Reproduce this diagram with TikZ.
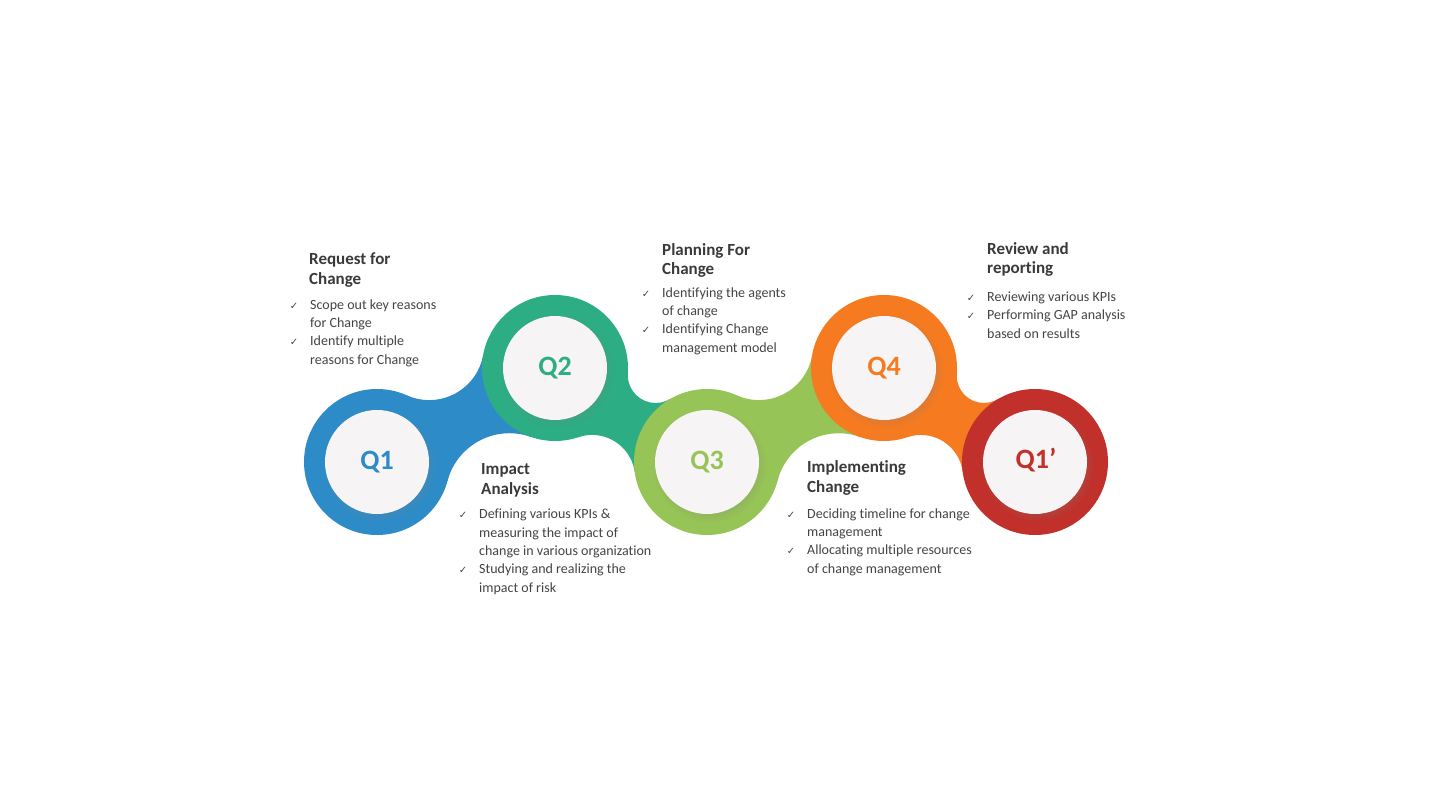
\documentclass[tikz,border=0pt]{standalone}
\usepackage{fontspec}
\setmainfont{Carlito}[Ligatures=NoCommon]
\newfontfamily\symfont{DejaVu Sans}
\usetikzlibrary{calc,shadows}

\definecolor{qblue}{HTML}{2D8CC8}
\definecolor{qteal}{HTML}{2CAD84}
\definecolor{qlime}{HTML}{96C456}
\definecolor{qorange}{HTML}{F57A20}
\definecolor{qred}{HTML}{C1302A}
\definecolor{discgrey}{HTML}{F6F4F4}
\definecolor{headgrey}{HTML}{3A3A3A}
\definecolor{bodygrey}{HTML}{444444}

% tick in front of a list item
\newcommand{\chk}{\llap{{\symfont\fontsize{10}{10}\selectfont ✓}\hspace{12pt}}}

% waisted band between two rings:
% from, to, upper carve radius, upper offset, lower carve radius, lower offset, colour
\newcommand{\bridge}[7]{%
  \begin{scope}
    \coordinate (mid) at ($(#1)!0.5!(#2)$);
    \coordinate (hi) at ($(mid)!#4!90:(#2)$);
    \coordinate (lo) at ($(mid)!#6!-90:(#2)$);
    \clip (#1) -- (hi) -- (#2) -- (lo) -- cycle;
    \fill[#7, even odd rule] (mid) circle[radius=300pt]
      (hi) circle[radius=#3] (lo) circle[radius=#5];
  \end{scope}}

\begin{document}
\begin{tikzpicture}[x=1pt, y=-1pt]
    \tikzset{ring/.style={circle, minimum size=146pt, inner sep=0pt, fill=#1}}
    \tikzset{disc/.style={circle, minimum size=104pt, inner sep=0pt, fill=discgrey,
        circular drop shadow={shadow xshift=2pt, shadow yshift=-3pt, opacity=0.18}}}
    \tikzset{qlabel/.style={font=\fontsize{28}{28}\selectfont\bfseries, text=#1}}
    \tikzset{head/.style={anchor=base west, align=left, inner sep=0pt,
        font=\fontsize{17}{19.5}\selectfont\bfseries, text=headgrey}}
    \tikzset{items/.style={anchor=base west, align=left, inner sep=0pt,
        font=\fontsize{14}{18.3}\selectfont, text=bodygrey}}

    \useasboundingbox[fill=white] (0,0) rectangle (1440,810);

    \coordinate (c1) at (377, 462);
    \coordinate (c2) at (555, 368);
    \coordinate (c3) at (707, 462);
    \coordinate (c4) at (884, 368);
    \coordinate (c5) at (1035, 462);

    % bands take the colour of the ring on their left
    \bridge{c1}{c2}{54.9pt}{78.9pt}{64.1pt}{93.1pt}{qblue}
    \bridge{c2}{c3}{27.9pt}{46.9pt}{43.1pt}{74.1pt}{qteal}
    \bridge{c3}{c4}{54.0pt}{78.0pt}{63.1pt}{92.1pt}{qlime}
    \bridge{c4}{c5}{27.2pt}{46.2pt}{42.2pt}{73.2pt}{qorange}

    \node (q1) at (c1) [ring=qblue] {};
    \node (q2) at (c2) [ring=qteal] {};
    \node (q3) at (c3) [ring=qlime] {};
    \node (q4) at (c4) [ring=qorange] {};
    \node (q5) at (c5) [ring=qred] {};

    \node (d1) at (c1) [disc] {};
    \node (d2) at (c2) [disc] {};
    \node (d3) at (c3) [disc] {};
    \node (d4) at (c4) [disc] {};
    \node (d5) at (c5) [disc] {};

    \node (t1) at (c1) [qlabel=qblue] {Q1};
    \node (t2) at (c2) [qlabel=qteal] {Q2};
    \node (t3) at (c3) [qlabel=qlime] {Q3};
    \node (t4) at (c4) [qlabel=qorange] {Q4};
    \node (t5) at (1036, 460) [qlabel=qred] {Q1’};

    % stage texts (base = last line)
    \node (rfcHead) at (309, 284) [head] {Request for\\Change};
    \node (rfcList) at (310, 364) [items] {\chk Scope out key reasons\\for Change\\
        \chk Identify multiple\\reasons for Change};

    \node (iaHead) at (481, 494) [head] {Impact\\Analysis};
    \node (iaList) at (479, 592) [items] {\chk Defining various KPIs \&\\
        measuring the impact of\\change in various organization\\
        \chk Studying and realizing the\\impact of risk};

    \node (pfcHead) at (662, 275) [head] {Planning For\\Change};
    \node (pfcList) at (662, 352) [items] {\chk Identifying the agents\\of change\\
        \chk Identifying Change\\management model};

    \node (icHead) at (807, 492) [head] {Implementing\\Change};
    \node (icList) at (807, 573) [items] {\chk Deciding timeline for change\\management\\
        \chk Allocating multiple resources\\of change management};

    \node (rrHead) at (987, 274) [head] {Review and\\reporting};
    \node (rrList) at (987, 338) [items] {\chk Reviewing various KPIs\\
        \chk Performing GAP analysis\\based on results};

\end{tikzpicture}
\end{document}
